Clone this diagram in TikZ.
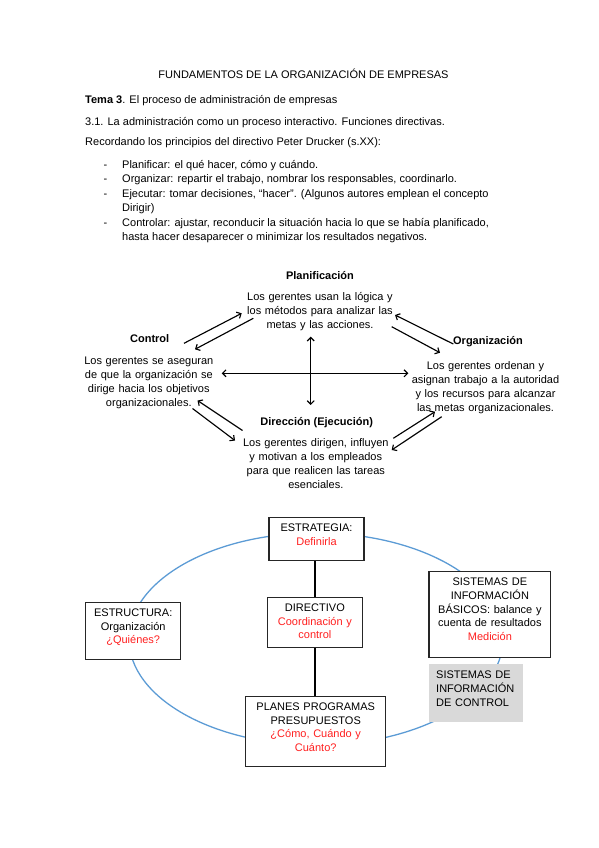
\documentclass[tikz,border=0pt]{standalone}
\usepackage{fontspec}
\setmainfont{Liberation Sans}
\usepackage{tikz}
\usetikzlibrary{arrows.meta}
\usetikzlibrary{positioning}
\usetikzlibrary{calc}
\definecolor{ringblue}{HTML}{5B9BD5}
\definecolor{hint}{HTML}{FF2020}
\definecolor{shade}{HTML}{D9D9D9}
\newcommand{\mainfs}{\fontsize{11}{14}\selectfont}
\newcommand{\listfs}{\fontsize{11}{14.5}\selectfont}
\newcommand{\boxfs}{\fontsize{11}{13.8}\selectfont}

\begin{document}
\begin{tikzpicture}[
  x=1pt, y=-1pt,
  every node/.style={inner sep=0pt, font=\mainfs},
  link/.style={
    -{Straight Barb[length=3.5pt,width=7pt]}, line width=0.4mm
  },
  twoway/.style={
    {Straight Barb[length=3.5pt,width=7pt]}-{Straight Barb[length=3.5pt,width=7pt]},
    line width=0.4mm
  },
  ttl/.style={anchor=base, font=\mainfs\bfseries},
  desc/.style={anchor=base, align=center, text width=#1},
  cell/.style 2 args={
    draw=black!85, line width=0.5mm, fill=white,
    anchor=north west,
    minimum width=#1,
    minimum height=#2},
  celltxt/.style={anchor=base, align=center, text width=#1, font=\boxfs},
]

  \def\listx{122}%
  \def\listy{168}%
  \def\listgap{14.5}%

  \path[fill=white] (0,0) rectangle (599,848);

    % Heading lines
  \node[anchor=base] (hdr) at (303.5,79)
    {FUNDAMENTOS DE LA ORGANIZACIÓN DE EMPRESAS};
  \node[anchor=base west] (tema) at (85,103.5)
    {\textbf{Tema 3}. El proceso de administración de empresas};
  \node[anchor=base west] (sub) at (85,125)
    {3.1. La administración como un proceso interactivo. Funciones directivas.};
  \node[anchor=base west] (intro) at (85,146)
    {Recordando los principios del directivo Peter Drucker (s.XX):};

    % List
  \foreach \i in {0,1,2,4} {
    \node[anchor=base west] (dash\i) at (103.5, \listy + \listgap*\i) {-};
  }
  \foreach \txt [count=\i from 0] in {
      {Planificar: el qué hacer, cómo y cuándo.},
      {Organizar: repartir el trabajo, nombrar los responsables, coordinarlo.},
      {Ejecutar: tomar decisiones, “hacer”. (Algunos autores emplean el concepto},
      {Dirigir)},
      {Controlar: ajustar, reconducir la situación hacia lo que se había planificado,},
      {hasta hacer desaparecer o minimizar los resultados negativos.}} {
    \node[anchor=base west, font=\listfs] (item\i) at (\listx, \listy + \listgap*\i) {\txt};
  }

    % Management cycle
  \node[ttl] (plan) at (320,279) {Planificación};
  \node[desc=160] (plan_t) at (320,300)
    {Los gerentes usan la lógica y\\los métodos para analizar las\\metas y las acciones.};
  \node[ttl] (ctrl) at (149.7,342) {Control};
  \node[desc=140] (ctrl_t) at (148.8,364)
    {Los gerentes se aseguran\\de que la organización se\\dirige hacia los objetivos\\organizacionales.};
  \node[ttl] (orga) at (488,344.5) {Organización};
  \node[desc=160] (orga_t) at (485.5,369)
    {Los gerentes ordenan y\\asignan trabajo a la autoridad\\y los recursos para alcanzar\\las metas organizacionales.};
  \node[ttl] (dirn) at (316.7,425.5) {Dirección (Ejecución)};
  \node[desc=160] (dirn_t) at (315.8,446.5)
    {Los gerentes dirigen, influyen\\y motivan a los empleados\\para que realicen las tareas\\esenciales.};

  \foreach \a/\b [count=\k] in {
      {184,343.3}/{241.7,313.3}, {253.3,318.3}/{195,349.3},
      {453.3,344}/{395,315}, {391.7,326.7}/{440,352.7},
      {242.5,430.5}/{197.5,400.5}, {192.5,408.5}/{235,440.5},
      {393.3,438.3}/{435,411.7}, {441.7,416.7}/{391.7,450}} {
    \coordinate (s\k) at (\a);
    \coordinate (t\k) at (\b);
    \draw[link] (s\k) -- (t\k);
  }
  \coordinate (hl) at (221.7,373.3);
  \coordinate (hr) at (408.3,373.3);
  \coordinate (vt) at (310.7,336.7);
  \coordinate (vb) at (310.7,405);
  \draw[twoway] (hl) -- (hr);
  \draw[twoway] (vt) -- (vb);

    % Ring of boxes
  \draw[ringblue, line width=0.45mm] (316,639) ellipse [x radius=187pt, y radius=106pt];

  \node[cell={95}{43.3}] (estrat) at (268.3,516.7) {};
  \node[celltxt=120] (estrat_t) at ($(estrat.north)+(0,14.5)$)
    {ESTRATEGIA:\\\textcolor{hint}{Definirla}};

  \node[cell={95}{57.3}] (estruc) at (85,601.7) {};
  \node[celltxt=120] (estruc_t) at ($(estruc.north)+(0,14.5)$)
    {ESTRUCTURA:\\Organización\\\textcolor{hint}{¿Quiénes?}};

  \node[cell={95}{50}] (direc) at (266.7,596.7) {};
  \node[celltxt=120] (direc_t) at ($(direc.north)+(0,14.5)$)
    {DIRECTIVO\\\textcolor{hint}{Coordinación y}\\\textcolor{hint}{control}};

  \node[cell={121.7}{85.7}] (sisbas) at (428.3,571) {};
  \node[celltxt=130] (sisbas_t) at ($(sisbas.north)+(0,14.5)$)
    {SISTEMAS DE\\INFORMACIÓN\\BÁSICOS: balance y\\cuenta de resultados\\\textcolor{hint}{Medición}};

  \node[fill=shade, anchor=north west, minimum width=94.4, minimum height=57.7] (sisctl) at (428.3,664) {};
  \node[anchor=base west, align=left, text width=90, font=\boxfs] (sisctl_t)
    at ($(sisctl.north west)+(7.7,14.5)$)
    {SISTEMAS DE\\INFORMACIÓN\\DE CONTROL};

  \node[cell={140}{70.3}] (planes) at (245,695.7) {};
  \node[celltxt=150] (planes_t) at ($(planes.north)+(0,14.5)$)
    {PLANES PROGRAMAS\\PRESUPUESTOS\\\textcolor{hint}{¿Cómo, Cuándo y}\\\textcolor{hint}{Cuánto?}};

  \draw[line width=0.45mm] (direc.north |- estrat.south) -- (direc.north);
  \draw[line width=0.45mm] (direc.south) -- (direc.south |- planes.north);

\end{tikzpicture}
\end{document}
